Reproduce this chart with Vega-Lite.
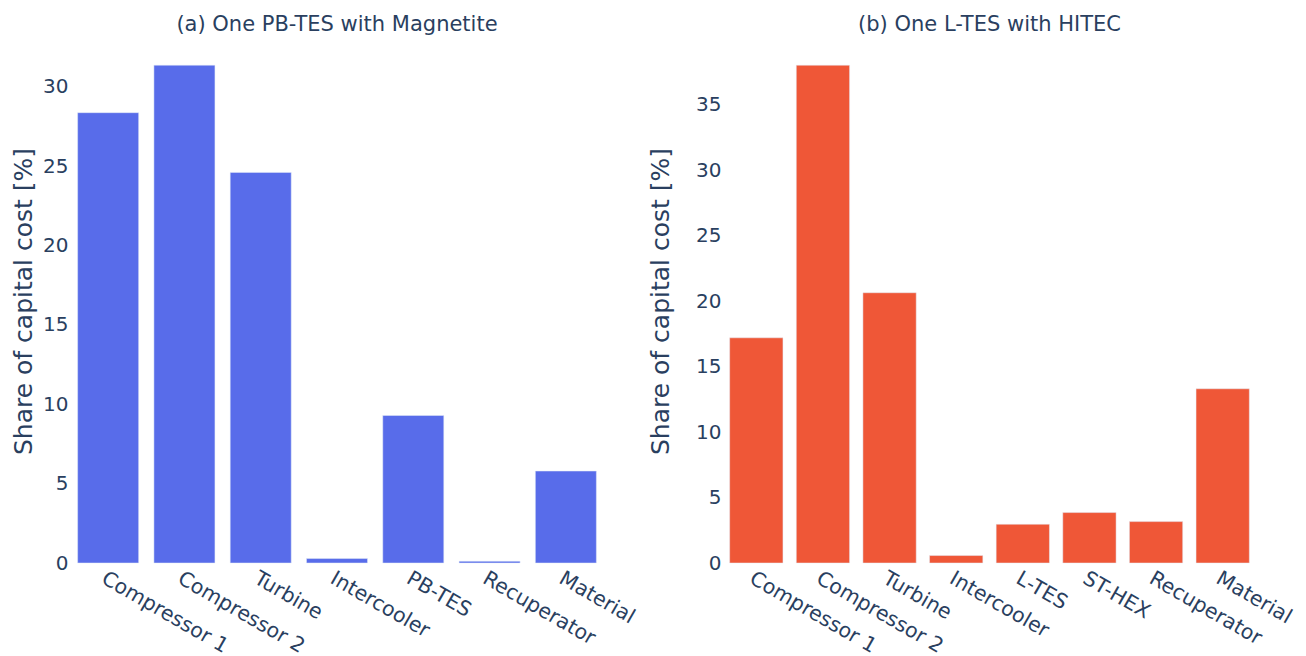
{
  "$schema": "https://vega.github.io/schema/vega-lite/v6.json",
  "background": "white",
  "padding": {"left": 11, "top": 14, "right": 5, "bottom": 0},
  "bounds": "flush",
  "spacing": 119,
  "config": {
    "view": {"stroke": null},
    "font": "DejaVu Sans",
    "axis": {
      "labelColor": "#2a3f5f",
      "titleColor": "#2a3f5f",
      "labelFont": "DejaVu Sans",
      "titleFont": "DejaVu Sans",
      "labelFontSize": 20,
      "titleFontSize": 25,
      "titleFontWeight": "normal",
      "domain": false,
      "ticks": false,
      "grid": false,
      "labelOverlap": false
    },
    "title": {
      "font": "DejaVu Sans",
      "fontSize": 21,
      "fontWeight": "normal",
      "color": "#2a3f5f",
      "anchor": "middle",
      "frame": "group",
      "offset": 4
    }
  },
  "datasets": {
    "a": [
      {"component": "Compressor 1", "share": 28.36},
      {"component": "Compressor 2", "share": 31.35},
      {"component": "Turbine", "share": 24.6},
      {"component": "Intercooler", "share": 0.28},
      {"component": "PB-TES", "share": 9.29},
      {"component": "Recuperator", "share": 0.11},
      {"component": "Material", "share": 5.79}
    ],
    "b": [
      {"component": "Compressor 1", "share": 17.19},
      {"component": "Compressor 2", "share": 38.0},
      {"component": "Turbine", "share": 20.63},
      {"component": "Intercooler", "share": 0.57},
      {"component": "L-TES", "share": 2.96},
      {"component": "ST-HEX", "share": 3.85},
      {"component": "Recuperator", "share": 3.16},
      {"component": "Material", "share": 13.3}
    ]
  },
  "hconcat": [
    {
      "width": 534,
      "height": 524,
      "title": {"text": "(a) One PB-TES with Magnetite"},
      "data": {"name": "a"},
      "mark": {"type": "bar", "color": "#586CEA", "stroke": "#E5ECF6", "strokeWidth": 0.5},
      "encoding": {
        "x": {
          "field": "component",
          "type": "nominal",
          "sort": null,
          "scale": {"paddingInner": 0.2, "paddingOuter": 0.1},
          "axis": {"title": null, "labelAngle": 30, "labelAlign": "left", "labelBaseline": "top", "labelPadding": 5, "labelFontSize": 20.5}
        },
        "y": {
          "field": "share",
          "type": "quantitative",
          "scale": {"domain": [0, 33], "nice": false},
          "axis": {"title": "Share of capital cost [%]", "values": [0, 5, 10, 15, 20, 25, 30], "labelPadding": 2, "titlePadding": 6}
        }
      }
    },
    {
      "width": 533,
      "height": 524,
      "title": {"text": "(b) One L-TES with HITEC"},
      "data": {"name": "b"},
      "mark": {"type": "bar", "color": "#EF5737", "stroke": "#E5ECF6", "strokeWidth": 0.5},
      "encoding": {
        "x": {
          "field": "component",
          "type": "nominal",
          "sort": null,
          "scale": {"paddingInner": 0.2, "paddingOuter": 0.1},
          "axis": {"title": null, "labelAngle": 30, "labelAlign": "left", "labelBaseline": "top", "labelPadding": 5, "labelFontSize": 20.5}
        },
        "y": {
          "field": "share",
          "type": "quantitative",
          "scale": {"domain": [0, 40], "nice": false},
          "axis": {"title": "Share of capital cost [%]", "values": [0, 5, 10, 15, 20, 25, 30, 35], "labelPadding": 2, "titlePadding": 22}
        }
      }
    }
  ]
}
